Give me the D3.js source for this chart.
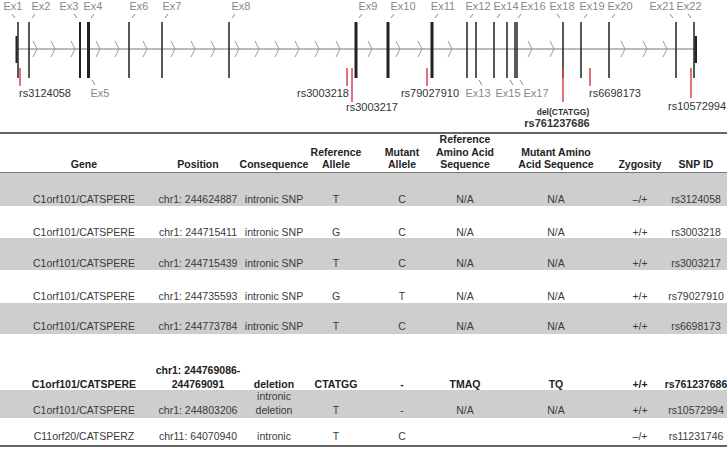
<!DOCTYPE html>
<html>
<head>
<meta charset="utf-8">
<script src="https://cdn.jsdelivr.net/npm/d3@7"></script>
<style>
  body { margin: 0; background: #fff; }
  text { font-family: "Liberation Sans", Arial, sans-serif; }
</style>
</head>
<body>
<div id="chart"></div>
<script>
// ---- gene track data (track units along CATSPERE) ----
var exonNames = ["Ex1", "Ex2", "Ex3", "Ex4", "Ex5", "Ex6", "Ex7", "Ex8", "Ex9", "Ex10", "Ex11",
  "Ex12", "Ex13", "Ex14", "Ex15", "Ex16", "Ex17", "Ex18", "Ex19", "Ex20", "Ex21", "Ex22"];
var exonPos = [1, 12, 63, 71, 72, 112, 145, 212, 339, 371, 415, 450, 459, 477, 490, 498, 500, 546, 564, 592, 659, 677];
var exonSide = ["up", "up", "up", "up", "down", "up", "up", "up", "up", "up", "up",
  "up", "down", "up", "down", "up", "down", "up", "up", "up", "up", "up"];
var intronArrows = [18, 36, 56, 81, 100, 128, 156, 176, 196, 220, 240, 260, 280, 300, 321,
  353, 381, 403, 433, 513, 535, 606, 628, 648];

var snpNames = ["rs3124058", "rs3003218", "rs3003217", "rs79027910", "rs761237686", "rs6698173", "rs10572994"];
var snpPos = [3, 330, 335, 410, 546, 573, 674];

// ---- table data ----
var headers = [["Gene"], ["Position"], ["Consequence"], ["Reference", "Allele"], ["Mutant", "Allele"],
  ["Reference", "Amino Acid", "Sequence"], ["Mutant Amino", "Acid Sequence"], ["Zygosity"], ["SNP ID"]];
var genes = ["C1orf101/CATSPERE", "C1orf101/CATSPERE", "C1orf101/CATSPERE", "C1orf101/CATSPERE",
  "C1orf101/CATSPERE", "C1orf101/CATSPERE", "C1orf101/CATSPERE", "C11orf20/CATSPERZ"];
var positions = [["chr1: 244624887"], ["chr1: 244715411"], ["chr1: 244715439"], ["chr1: 244735593"],
  ["chr1: 244773784"], ["chr1: 244769086-", "244769091"], ["chr1: 244803206"], ["chr11: 64070940"]];
var consequences = [["intronic SNP"], ["intronic SNP"], ["intronic SNP"], ["intronic SNP"], ["intronic SNP"],
  ["deletion"], ["intronic", "deletion"], ["intronic"]];
var refAlleles = ["T", "G", "T", "G", "T", "CTATGG", "T", "T"];
var mutAlleles = ["C", "C", "C", "T", "C", "-", "-", "C"];
var refAA = ["N/A", "N/A", "N/A", "N/A", "N/A", "TMAQ", "N/A", ""];
var mutAA = ["N/A", "N/A", "N/A", "N/A", "N/A", "TQ", "N/A", ""];
var zygosity = ["\u2013/+", "+/+", "+/+", "+/+", "+/+", "+/+", "+/+", "\u2013/+"];
var snpIds = ["rs3124058", "rs3003218", "rs3003217", "rs79027910", "rs6698173", "rs761237686", "rs10572994", "rs11231746"];
var boldRows = [5];

(function() {
  var w = 727, h = 456;
  var root = d3.select("#chart").append("svg").attr("width", w).attr("height", h);
  root.append("rect").attr("width", w).attr("height", h).attr("fill", "#fff");

  // ----- gene track -----
  var x = d3.scaleLinear().domain([0, 680]).range([17, 697]);
  var trackY = 49;
  var track = root.append("g");

  track.append("line").attr("x1", x(0)).attr("x2", x(680)).attr("y1", trackY).attr("y2", trackY)
    .attr("stroke", "#777").attr("stroke-width", 1);

  track.selectAll("polyline.arrow").data(intronArrows).enter().append("polyline")
    .attr("class", "arrow")
    .attr("points", function(d) {
      var cx = x(d);
      return (cx - 2) + "," + (trackY - 8) + " " + (cx + 2) + "," + trackY + " " + (cx - 2) + "," + (trackY + 8);
    })
    .attr("fill", "none").attr("stroke", "#999").attr("stroke-width", 1);

  var thick = {"Ex3": 2, "Ex4": 2, "Ex5": 2, "Ex9": 3, "Ex10": 3, "Ex11": 3};
  track.selectAll("line.exon").data(exonNames).enter().append("line")
    .attr("class", "exon")
    .attr("x1", function(d, i) { return x(exonPos[i]); })
    .attr("x2", function(d, i) { return x(exonPos[i]); })
    .attr("y1", 22).attr("y2", 78)
    .attr("stroke", "#222")
    .attr("stroke-width", function(d) { return thick[d] || 1.5; });

  // coding blocks at the ends (first and last exon)
  track.append("rect").attr("x", x(exonPos[0]) - 2.5).attr("y", 36).attr("width", 2).attr("height", 27).attr("fill", "#222");
  track.append("rect").attr("x", x(exonPos[21]) + 0.5).attr("y", 36).attr("width", 2.5).attr("height", 27).attr("fill", "#222");

  // exon labels: offset of label centre from exon
  var labelDx = {"Ex1": -5, "Ex2": 12, "Ex3": -11, "Ex4": 5, "Ex5": 11, "Ex6": 10, "Ex7": 10, "Ex8": 12,
    "Ex9": 12, "Ex10": 15, "Ex11": 11, "Ex12": 11, "Ex13": 2, "Ex14": 12, "Ex15": 1, "Ex16": 18, "Ex17": 19,
    "Ex18": -1, "Ex19": 11, "Ex20": 11, "Ex21": -14, "Ex22": -5};
  exonNames.forEach(function(name, i) {
    var ex = x(exonPos[i]);
    var dx = labelDx[name];
    var dir = dx >= 0 ? 1 : -1;
    if (exonSide[i] === "up") {
      track.append("text").attr("x", ex + dx).attr("y", 10).attr("text-anchor", "middle")
        .attr("font-size", 11).attr("fill", "#888").text(name);
      track.append("line").attr("x1", ex + dir * 6).attr("y1", 14).attr("x2", ex + dir * 3).attr("y2", 18)
        .attr("stroke", "#888").attr("stroke-width", 1);
    } else {
      track.append("text").attr("x", ex + dx).attr("y", 97).attr("text-anchor", "middle")
        .attr("font-size", 11).attr("fill", "#888").text(name);
      track.append("line").attr("x1", ex + dir * 3).attr("y1", 80).attr("x2", ex + dir * 6).attr("y2", 85)
        .attr("stroke", "#888").attr("stroke-width", 1);
    }
  });

  // SNP markers
  var snpLen = {"rs3124058": 86, "rs3003218": 86, "rs3003217": 102, "rs79027910": 86,
    "rs761237686": 102, "rs6698173": 86, "rs10572994": 98};
  var snpLabel = {
    "rs3124058": {dx: -1, y: 97, anchor: "start"},
    "rs3003218": {dx: 2, y: 97, anchor: "end"},
    "rs3003217": {dx: -6, y: 111, anchor: "start"},
    "rs79027910": {dx: 3, y: 97, anchor: "middle"},
    "rs761237686": {dx: -6, y: 127, anchor: "middle"},
    "rs6698173": {dx: -1, y: 97, anchor: "start"},
    "rs10572994": {dx: -23, y: 110, anchor: "start"}
  };
  track.selectAll("line.snp").data(snpNames).enter().append("line")
    .attr("class", "snp")
    .attr("x1", function(d, i) { return x(snpPos[i]); })
    .attr("x2", function(d, i) { return x(snpPos[i]); })
    .attr("y1", 68).attr("y2", function(d) { return snpLen[d]; })
    .attr("stroke", "#d9434f").attr("stroke-width", 1.5);

  snpNames.forEach(function(name, i) {
    var L = snpLabel[name];
    var t = track.append("text").attr("x", x(snpPos[i]) + L.dx).attr("y", L.y)
      .attr("text-anchor", L.anchor).attr("font-size", 11).attr("fill", "#333").text(name);
    if (name === "rs761237686") {
      t.attr("font-weight", "bold");
      track.append("text").attr("x", x(snpPos[i])).attr("y", 115).attr("text-anchor", "middle")
        .attr("font-size", 8.5).attr("font-weight", "bold").attr("fill", "#333").text("del(CTATGG)");
    }
  });

  // ----- table -----
  var colX = [84, 198, 274, 336, 402, 465, 556, 640, 696];
  var rowTop = [173, 206, 238, 270, 303, 334, 390, 418];
  var tableBottom = 445;
  var rowBase = [203, 236, 267, 300, 330, 388, 414, 440];
  var lineGap = 14;
  var table = root.append("g");

  var shaded = rowTop.map(function(t, i) {
    return {top: t, bottom: i + 1 < rowTop.length ? rowTop[i + 1] : tableBottom, i: i};
  }).filter(function(d) { return d.i % 2 === 0; });

  table.selectAll("rect.shade").data(shaded).enter().append("rect")
    .attr("class", "shade")
    .attr("x", 0).attr("width", w)
    .attr("y", function(d) { return d.top; })
    .attr("height", function(d) { return d.bottom - d.top; })
    .attr("fill", "#cecece");

  table.append("line").attr("x1", 0).attr("x2", w).attr("y1", 133).attr("y2", 133)
    .attr("stroke", "#666").attr("stroke-width", 2);
  table.append("line").attr("x1", 0).attr("x2", w).attr("y1", 172.5).attr("y2", 172.5)
    .attr("stroke", "#777").attr("stroke-width", 1);
  table.append("line").attr("x1", 0).attr("x2", w).attr("y1", tableBottom + 1).attr("y2", tableBottom + 1)
    .attr("stroke", "#666").attr("stroke-width", 2);

  headers.forEach(function(lines, c) {
    lines.forEach(function(s, k) {
      table.append("text").attr("x", colX[c]).attr("y", 168 - (lines.length - 1 - k) * 12.5)
        .attr("text-anchor", "middle").attr("font-size", 10.5).attr("font-weight", "bold")
        .attr("fill", "#222").text(s);
    });
  });

  var cols = [genes, positions, consequences, refAlleles, mutAlleles, refAA, mutAA, zygosity, snpIds];
  cols.forEach(function(col, c) {
    col.forEach(function(v, r) {
      var lines = Array.isArray(v) ? v : [v];
      var bold = boldRows.indexOf(r) >= 0;
      lines.forEach(function(s, k) {
        table.append("text").attr("x", colX[c])
          .attr("y", rowBase[r] - (lines.length - 1 - k) * lineGap)
          .attr("text-anchor", "middle").attr("font-size", 10.5)
          .attr("font-weight", bold ? "bold" : "normal")
          .attr("fill", bold ? "#222" : "#3a3a3a").text(s);
      });
    });
  });
})();
</script>
</body>
</html>
